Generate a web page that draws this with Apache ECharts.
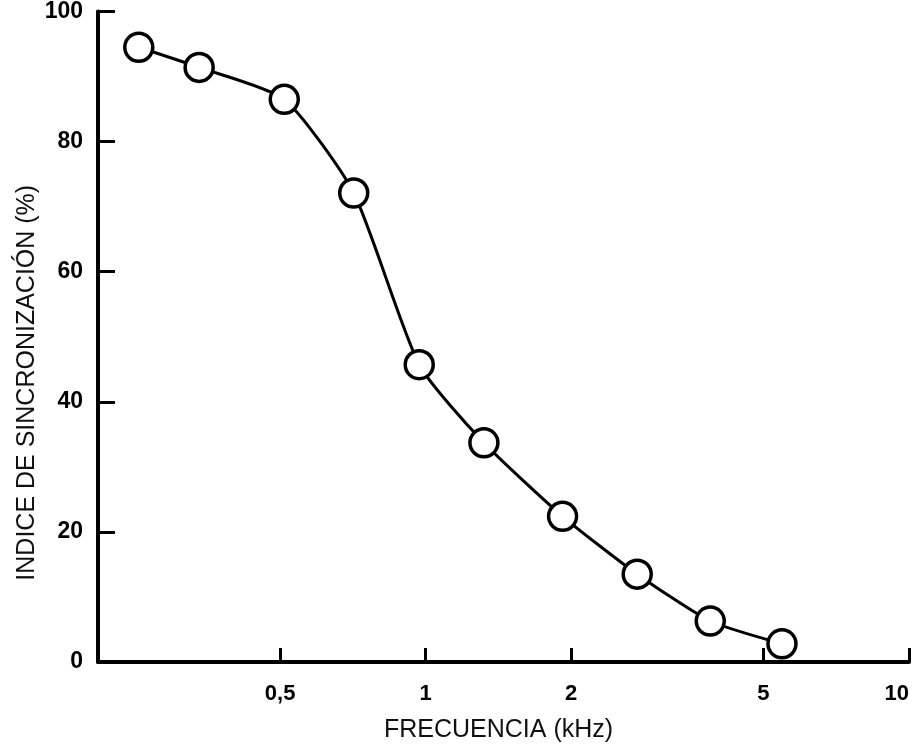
<!DOCTYPE html>
<html>
<head>
<meta charset="utf-8">
<script src="https://cdn.jsdelivr.net/npm/echarts@6/dist/echarts.min.js"></script>
<style>
html,body{margin:0;padding:0;background:#fff;}
#chart{width:912px;height:748px;}
</style>
</head>
<body>
<div id="chart"></div>
<script>
// Data
const freqKHz = [0.255, 0.34, 0.51, 0.71, 0.97, 1.32, 1.92, 2.74, 3.88, 5.46];
const syncIndex = [94.5, 91.4, 86.5, 72.1, 45.7, 33.7, 22.4, 13.5, 6.3, 2.8];
const xTickValues = [0.5, 1, 2, 5, 10];
const xTickLabels = ['0,5', '1', '2', '5', '10'];
const yTickValues = [0, 20, 40, 60, 80, 100];
const xMinKHz = 0.21;
const xMaxKHz = 10;
const xTitle = 'FRECUENCIA (kHz)';
const yTitle = 'INDICE DE SINCRONIZACIÓN (%)';

const seriesData = freqKHz.map((f, i) => [Math.log10(f), syncIndex[i]]);
const xTickLog = xTickValues.map(v => Math.log10(v));

const chart = echarts.init(document.getElementById('chart'), null, {renderer: 'canvas'});
const FONT = '"Liberation Sans", Arial, Helvetica, sans-serif';

chart.setOption({
  backgroundColor: '#ffffff',
  animation: false,
  grid: {left: 98, right: 2, top: 10, bottom: 86, containLabel: false},
  xAxis: {
    type: 'value',
    min: Math.log10(xMinKHz),
    max: Math.log10(xMaxKHz),
    name: xTitle,
    nameLocation: 'middle',
    nameGap: 56,
    nameMoveOverlap: false,
    nameTextStyle: {fontFamily: FONT, fontSize: 25, color: '#111', padding: [0, 10, 0, 0]},
    axisLine: {show: true, onZero: false, lineStyle: {color: '#000', width: 4}},
    axisTick: {show: true, inside: true, length: 14, lineStyle: {color: '#000', width: 3}, customValues: xTickLog},
    axisLabel: {
      show: true, margin: 21, fontFamily: FONT, fontSize: 22, fontWeight: 'bold', color: '#000',
      customValues: xTickLog,
      alignMaxLabel: 'right',
      formatter: function (v) {
        let best = 0, bd = Infinity;
        xTickLog.forEach((t, i) => { const d = Math.abs(t - v); if (d < bd) { bd = d; best = i; } });
        return xTickLabels[best];
      }
    },
    splitLine: {show: false}
  },
  yAxis: {
    type: 'value',
    min: yTickValues[0],
    max: yTickValues[yTickValues.length - 1],
    interval: 20,
    name: yTitle,
    nameLocation: 'middle',
    nameRotate: 90,
    nameGap: 58,
    nameMoveOverlap: false,
    nameTextStyle: {fontFamily: FONT, fontSize: 25, color: '#111', padding: [0, 92, 0, 0]},
    axisLine: {show: true, onZero: false, lineStyle: {color: '#000', width: 4}},
    axisTick: {show: true, inside: true, length: 17, lineStyle: {color: '#000', width: 3}},
    axisLabel: {show: true, margin: 15, fontFamily: FONT, fontSize: 23, fontWeight: 'bold', color: '#000'},
    splitLine: {show: false}
  },
  series: [{
    type: 'line',
    data: seriesData,
    smooth: 0.2,
    symbol: 'circle',
    symbolSize: 28,
    showAllSymbol: true,
    lineStyle: {color: '#000', width: 3},
    itemStyle: {color: '#fff', borderColor: '#000', borderWidth: 3.5},
    z: 3
  }]
});
</script>
</body>
</html>
